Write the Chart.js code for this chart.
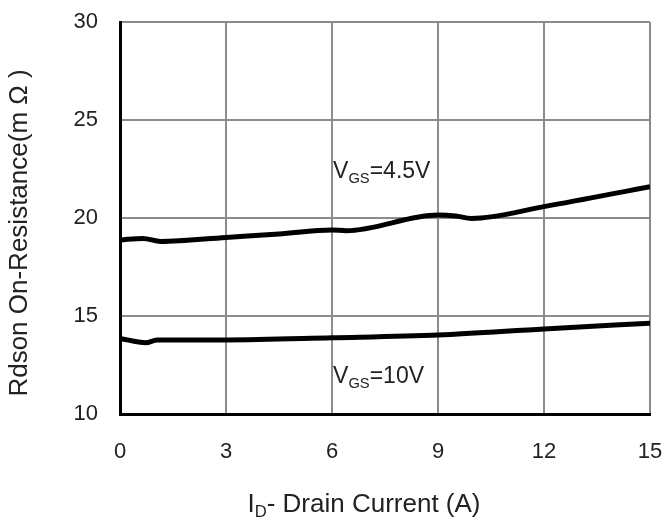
<!DOCTYPE html>
<html>
<head>
<meta charset="utf-8">
<script src="https://cdn.jsdelivr.net/npm/chart.js@4"></script>
<style>
  html, body { margin: 0; padding: 0; background: #fff; }
  canvas { display: block; }
</style>
</head>
<body>
<canvas id="rdson" width="664" height="524"></canvas>
<script>
// I_D (A) and Rdson (mOhm)
var currentVgs45 = [0, 0.65, 1.15, 3, 4.5, 6, 6.4, 9, 9.5, 9.95, 12, 15];
var rdsonVgs45 = [18.88, 18.96, 18.8, 19.01, 19.18, 19.39, 19.35, 20.15, 20.1, 19.98, 20.58, 21.6];
var currentVgs10 = [0, 0.73, 1.05, 3, 6, 9, 12, 15];
var rdsonVgs10 = [13.86, 13.64, 13.78, 13.78, 13.89, 14.03, 14.34, 14.63];

var xTicks = [0, 3, 6, 9, 12, 15];
var yTicks = [10, 15, 20, 25, 30];

// curve labels: text parts (second item = subscript), anchored at [I_D, Rdson]
var curveLabels = [
  { parts: [['V', 0], ['GS', 1], ['=4.5V', 0]], at: [6.03, 22.04] },
  { parts: [['V', 0], ['GS', 1], ['=10V', 0]], at: [6.03, 11.58] }
];
var xTitle = [['I', 0], ['D', 1], ['- Drain Current (A)', 0]];
var yTitle = 'Rdson On-Resistance(m Ω )';

var FONT = '"Liberation Sans", Arial, sans-serif';
var INK = '#222';

function points(xs, ys) {
  return xs.map(function (x, i) { return { x: x, y: ys[i] }; });
}

function richText(ctx, parts, x, y, size, align) {
  var w = 0;
  var sized = parts.map(function (p) {
    var s = p[1] ? size * 0.64 : size;
    ctx.font = s + 'px ' + FONT;
    var pw = ctx.measureText(p[0]).width;
    w += pw;
    return { t: p[0], s: s, sub: p[1], w: pw };
  });
  var cx = align === 'center' ? x - w / 2 : x;
  sized.forEach(function (p) {
    ctx.font = p.s + 'px ' + FONT;
    ctx.fillText(p.t, cx, p.sub ? y + size * 0.2 : y);
    cx += p.w;
  });
}

var textPlugin = {
  id: 'textPlugin',
  afterDraw: function (chart) {
    var ctx = chart.ctx;
    var sx = chart.scales.x, sy = chart.scales.y;
    ctx.save();
    ctx.fillStyle = INK;
    ctx.textBaseline = 'alphabetic';
    ctx.textAlign = 'left';
    curveLabels.forEach(function (l) {
      richText(ctx, l.parts, sx.getPixelForValue(l.at[0]), sy.getPixelForValue(l.at[1]), 23, 'left');
    });
    richText(ctx, xTitle, 364, 512, 26, 'center');
    ctx.translate(27, 233);
    ctx.rotate(-Math.PI / 2);
    ctx.textAlign = 'center';
    ctx.font = '26px ' + FONT;
    ctx.fillText(yTitle, 0, 0);
    ctx.restore();
  }
};

var gridStyle = { color: '#8c8c8c', lineWidth: 2, drawTicks: false };
var tickFont = { family: FONT, size: 22 };

new Chart(document.getElementById('rdson'), {
  type: 'line',
  data: {
    datasets: [
      {
        label: 'VGS=4.5V',
        data: points(currentVgs45, rdsonVgs45),
        borderColor: '#000',
        borderWidth: 5,
        pointRadius: 0,
        cubicInterpolationMode: 'monotone'
      },
      {
        label: 'VGS=10V',
        data: points(currentVgs10, rdsonVgs10),
        borderColor: '#000',
        borderWidth: 5,
        pointRadius: 0,
        cubicInterpolationMode: 'monotone'
      }
    ]
  },
  options: {
    responsive: false,
    animation: false,
    layout: { padding: { left: 0, right: 14, top: 22, bottom: 0 } },
    plugins: { legend: { display: false }, tooltip: { enabled: false } },
    scales: {
      x: {
        type: 'linear',
        min: 0,
        max: 15,
        afterBuildTicks: function (s) { s.ticks = xTicks.map(function (v) { return { value: v }; }); },
        afterFit: function (s) { s.height = 110; s.paddingLeft = 0; s.paddingRight = 0; },
        grid: gridStyle,
        border: { color: '#000', width: 3 },
        ticks: { padding: 25, color: INK, font: tickFont, maxRotation: 0 }
      },
      y: {
        type: 'linear',
        min: 10,
        max: 30,
        afterBuildTicks: function (s) { s.ticks = yTicks.map(function (v) { return { value: v }; }); },
        afterFit: function (s) { s.width = 120; s.paddingTop = 0; s.paddingBottom = 0; },
        grid: gridStyle,
        border: { color: '#000', width: 3 },
        ticks: { padding: 22, color: INK, font: tickFont }
      }
    }
  },
  plugins: [textPlugin]
});
</script>
</body>
</html>
